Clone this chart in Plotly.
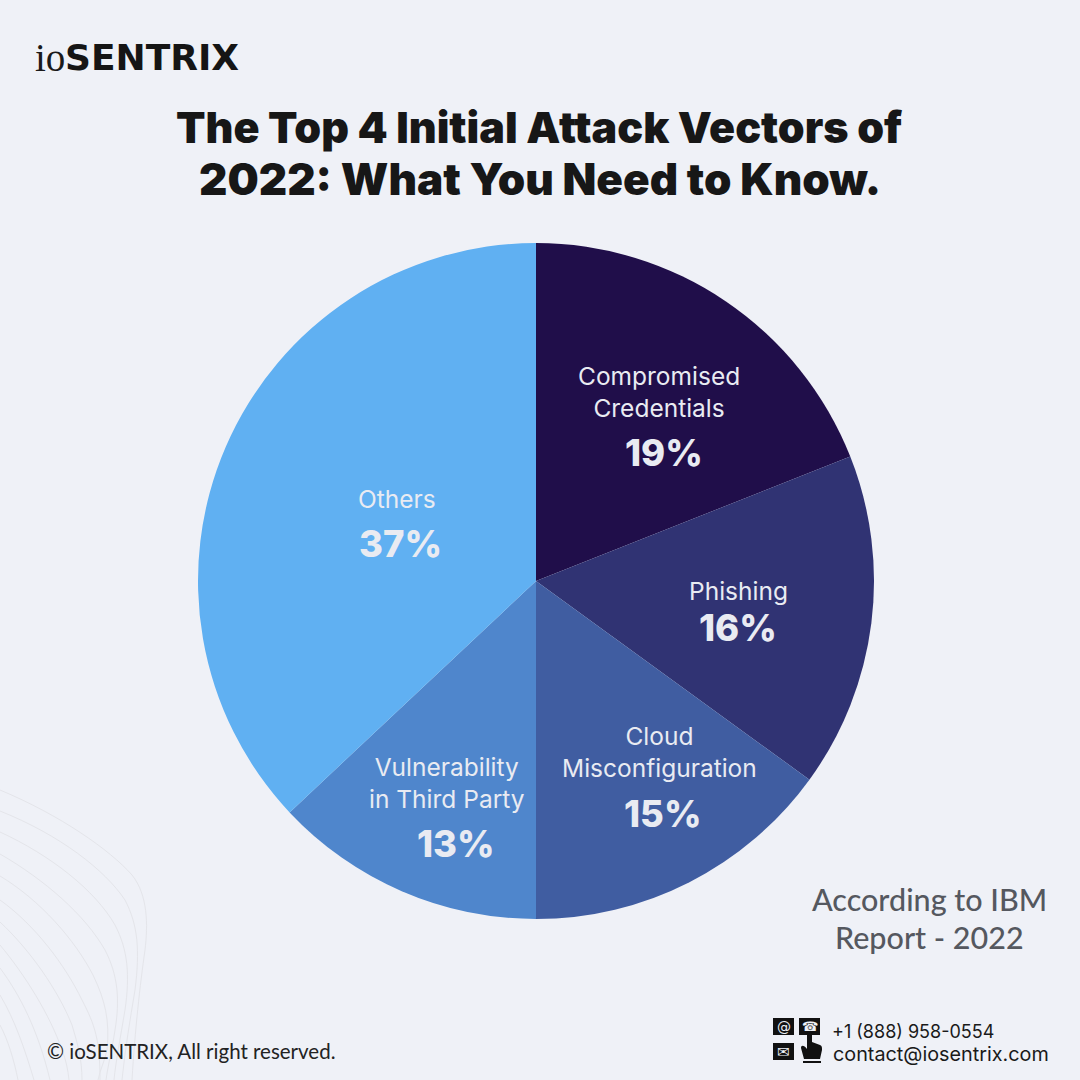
import plotly.graph_objects as go

categories = ["Compromised<br>Credentials", "Phishing", "Cloud<br>Misconfiguration", "Vulnerability<br>in Third Party", "Others"]
values = [19, 16, 15, 13, 37]
colors = ["#200E4A", "#303373", "#405DA1", "#4F86CC", "#60B0F2"]
label_px = [(659, 392), (738, 591), (659, 752), (447, 783), (397, 499)]
pct_px = [(664, 453), (738, 628), (662, 814), (456, 844), (400, 544)]
W = 1080
BG = "#EFF1F7"
BODY = "Inter"
px = lambda x: x / W
py = lambda y: 1 - y / W

fig = go.Figure(go.Pie(
    values=values, labels=[c.replace("<br>", " ") for c in categories],
    sort=False, direction="clockwise", rotation=0,
    marker=dict(colors=colors, line=dict(width=0)),
    textinfo="none", hoverinfo="label+percent", showlegend=False,
    domain=dict(x=[px(198), px(874)], y=[py(919), py(243)]),
))

def note(x, y, text, size, color, weight=400, family=BODY, anchor="center"):
    fig.add_annotation(x=px(x), y=py(y), xref="paper", yref="paper", text=text, showarrow=False,
                       xanchor=anchor, yanchor="middle", align=anchor,
                       font=dict(size=size, color=color, family=family, weight=weight))

for c, v, (lx, ly), (qx, qy) in zip(categories, values, label_px, pct_px):
    note(lx, ly, c, 24.5, "#E9EBF2")
    note(qx, qy, f"{v}%", 36.5, "#E9EBF2", 800)

note(539, 127, "The Top 4 Initial Attack Vectors of", 43, "#171717", 900)
note(540, 179, "2022: What You Need to Know.", 44, "#171717", 900)
note(33, 58, "io", 39, "#1a1a1a", 400, "Liberation Serif", "left")
note(63, 58, "SENTRIX", 36, "#151515", 800, "DejaVu Sans", "left")
note(929, 899, "According to IBM", 30.5, "#55585F", 500, "Lato")
note(929, 937, "Report - 2022", 30.5, "#55585F", 500, "Lato")
note(45, 1051, "© ioSENTRIX, All right reserved.", 20.5, "#222222", 400, "Lato", "left")
note(830, 1031, "+1 (888) 958-0554", 18, "#1a1a1a", 400, BODY, "left")
note(831, 1054, "contact@iosentrix.com", 19.8, "#1a1a1a", 400, BODY, "left")

# contact icons
for x0, y0, glyph, fs in [(773, 1018, "@", 14), (799, 1018, "☎", 13), (773, 1043, "✉", 15)]:
    fig.add_shape(type="rect", xref="x", yref="y", x0=x0, x1=x0 + 21, y0=y0, y1=y0 + 17,
                  fillcolor="#111111", line_width=0)
    note(x0 + 10.5, y0 + 8.5, glyph, fs, "#EFF1F7", 400, "DejaVu Sans")
hand = ("M807,1034 C807,1030 812,1030 812,1034 L812,1042 L820,1045 C822,1046 822,1047 822,1050 "
        "L820,1059 L804,1059 L801,1048 C801,1045 804,1045 807,1049 Z")
fig.add_shape(type="path", path=hand, xref="x", yref="y", fillcolor="#111111", line_width=0)
fig.add_shape(type="rect", xref="x", yref="y", x0=803, x1=821, y0=1061, y1=1063, fillcolor="#111111", line_width=0)

# faint decorative contour lines, bottom-left
curves = [
    "M0,790 C60,815 110,850 132,875 C148,895 148,925 145,950 C140,985 135,1030 132,1080",
    "M0,811 C60,835 105,870 125,900 C138,925 140,950 135,990 C130,1020 125,1050 122,1080",
    "M0,832 C50,855 95,890 115,925 C128,950 130,975 125,1010 C120,1040 116,1060 114,1080",
    "M0,854 C45,880 85,915 105,950 C118,975 120,1000 115,1030 C112,1050 108,1065 106,1080",
    "M0,876 C40,900 75,940 93,975 C105,1000 110,1020 107,1050 C105,1060 100,1070 98,1080",
    "M0,900 C35,925 65,965 82,1000 C95,1025 100,1040 100,1080",
    "M0,922 C30,950 58,990 72,1025 C78,1045 82,1060 82,1080",
    "M0,945 C25,975 50,1015 62,1050 C66,1060 68,1070 69,1080",
    "M0,968 C20,995 38,1030 50,1080",
    "M0,995 C15,1020 25,1050 34,1080",
    "M0,1025 C8,1040 14,1060 18,1080",
]
for d in curves:
    fig.add_shape(type="path", path=d, xref="x", yref="y", line=dict(color="#E4E5EA", width=1), layer="below")

fig.update_layout(
    width=W, height=W, margin=dict(l=0, r=0, t=0, b=0), paper_bgcolor=BG, plot_bgcolor=BG,
    xaxis=dict(range=[0, W], visible=False, fixedrange=True),
    yaxis=dict(range=[W, 0], visible=False, fixedrange=True),
)
fig.write_html("out.html", config={"displayModeBar": False},
               post_script="document.body.style.margin='0';document.body.style.overflow='hidden';document.body.style.background='#EFF1F7';")
